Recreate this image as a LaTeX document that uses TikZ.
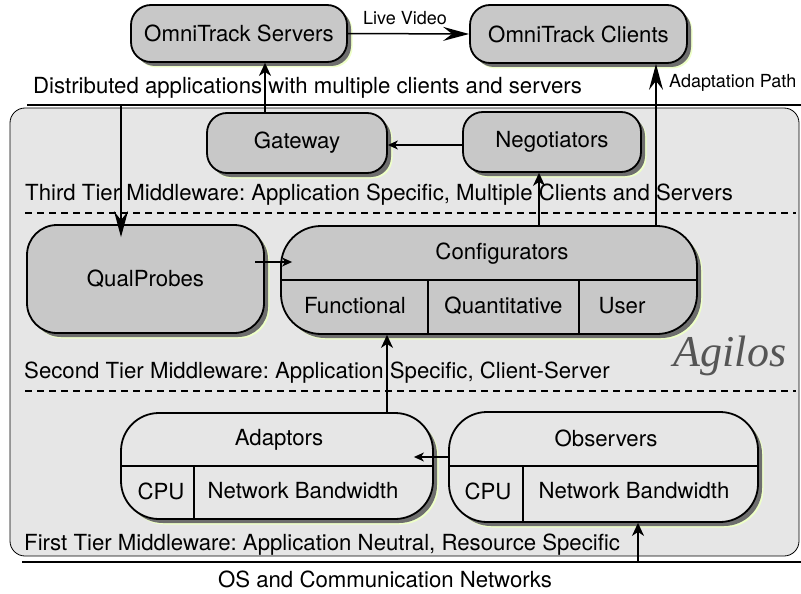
\documentclass[tikz,border=0pt]{standalone}
\usepackage{fontspec}
\setmainfont{TeX Gyre Heros}
\newfontfamily\agfont{Liberation Serif}
\usetikzlibrary{arrows.meta,shadows,calc}
\definecolor{bggray}{HTML}{E6E6E6}
\definecolor{boxgray}{HTML}{C8C8C8}
\definecolor{shgray}{HTML}{6E6E6E}
\definecolor{halo}{HTML}{EEFFC8}
\definecolor{aggray}{HTML}{555555}
\frenchspacing
\begin{document}
\begin{tikzpicture}[x=1pt,y=-1pt,
  every node/.style={inner sep=0pt,font=\fontsize{22.2}{26}\selectfont},
  tbox/.style={draw,line width=1.8pt,rounded corners=#1,fill=boxgray,
    drop shadow={shadow xshift=5.5pt,shadow yshift=-5.5pt,fill=halo,opacity=1},
    drop shadow={shadow xshift=4pt,shadow yshift=-4pt,fill=shgray,opacity=1}},
  lbox/.style={tbox=#1,fill=bggray},
  small/.style={font=\fontsize{18}{21}\selectfont},
  conn/.style={line width=1.5pt},
  bigtip/.style={conn,-{Stealth[length=26pt,width=14pt,inset=9pt]}},
  midtip/.style={conn,-{Stealth[length=13pt,width=12pt,inset=4pt]}},
  smalltip/.style={conn,-{Stealth[length=10pt,width=9pt,inset=3pt]}},
  divider/.style={line width=1.8pt},
  rule/.style={line width=1.5pt},
  tierline/.style={line width=1.5pt,dash pattern=on 7pt off 5pt}]
\useasboundingbox (0,0) rectangle (801,594);

% Agilos background box
\node[draw,line width=0.8pt,fill=bggray,rounded corners=15pt,
      minimum width=789pt,minimum height=448pt] (agbox) at (404.5,332) {};

% rules
\coordinate (topL) at (27,105);
\coordinate (topR) at (801,105);
\coordinate (botL) at (22,562);
\coordinate (botR) at (801,562);
\draw[rule] (topL) -- (topR);
\draw[rule] (botL) -- (botR);
\coordinate (d1L) at (25,213);
\coordinate (d1R) at (796,213);
\coordinate (d2L) at (25,391);
\coordinate (d2R) at (796,391);
\draw[tierline] (d1L) -- (d1R);
\draw[tierline] (d2L) -- (d2R);

% texts
\node[anchor=west] (dist) at (33,88) {Distributed applications with multiple clients and servers};
\node[anchor=west] (tier3) at (25,195) {Third Tier Middleware: Application Specific, Multiple Clients and Servers};
\node[anchor=west] (tier2) at (24,373) {Second Tier Middleware: Application Specific, Client-Server};
\node[anchor=west] (tier1) at (24,545) {First Tier Middleware: Application Neutral, Resource Specific};
\node (os) at (385,579) {OS and Communication Networks};
\node[font=\agfont\itshape\fontsize{44}{50}\selectfont,text=aggray] (agilos) at (730,356) {Agilos};
\node[small] (live) at (405,18) {Live Video};
\node[small,anchor=west] (adpath) at (669,83) {Adaptation Path};

% boxes
\node[tbox=20pt,minimum width=216pt,minimum height=57pt] (servers) at (239,33.5) {OmniTrack Servers};
\node[tbox=20pt,minimum width=217pt,minimum height=58pt] (clients) at (578.5,34) {OmniTrack Clients};
\node[tbox=20pt,minimum width=180pt,minimum height=60pt] (gateway) at (297,143) {Gateway};
\node[tbox=20pt,minimum width=178pt,minimum height=60pt] (negot) at (552,142) {Negotiators};
\node[tbox=30pt,minimum width=237pt,minimum height=108pt] (qual) at (145.5,279) {QualProbes};
\node[tbox=40pt,minimum width=416pt,minimum height=108pt] (config) at (489,280) {};
\node[lbox=38pt,minimum width=312pt,minimum height=106pt] (adapt) at (277,466) {};
\node[lbox=38pt,minimum width=309pt,minimum height=110pt] (obs) at (603.5,467) {};

% compartments: Configurators
\draw[divider] (config.west) -- (config.east);
\coordinate (cv1) at (428,0);
\coordinate (cv2) at (579,0);
\draw[divider] (cv1 |- config.center) -- (cv1 |- config.south);
\draw[divider] (cv2 |- config.center) -- (cv2 |- config.south);
\node (conft) at (502,254) {Configurators};
\node (func) at (355,306) {Functional};
\node (quant) at (503.5,306) {Quantitative};
\node (user) at (622,306) {User};

% compartments: Adaptors
\draw[divider] (adapt.west) -- (adapt.east);
\coordinate (av1) at (194,0);
\draw[divider] (av1 |- adapt.center) -- (av1 |- adapt.south);
\node (adt) at (279,440) {Adaptors};
\node (acpu) at (161,491) {CPU};
\node (anb) at (303,491) {Network Bandwidth};

% compartments: Observers
\coordinate (ov0) at (0,466);
\draw[divider] (obs.west |- ov0) -- (obs.east |- ov0);
\coordinate (ov1) at (523,0);
\draw[divider] (ov1 |- ov0) -- (ov1 |- obs.south);
\node (obt) at (606,438) {Observers};
\node (ocpu) at (488,491) {CPU};
\node (onb) at (634,491) {Network Bandwidth};

% connectors
\draw[bigtip] (servers.east) -- (clients.west);
\coordinate (gs) at (265,0);
\draw[midtip] (gs |- gateway.north) -- (gs |- servers.south);
\draw[smalltip] (negot.west |- 0,145) -- (gateway.east |- 0,145);
\coordinate (ql) at (121,0);
\draw[bigtip] (ql |- topL) -- ($(ql |- qual.north)+(0,13)$);
\coordinate (q1) at (255,262);
\draw[smalltip] (q1) -- ($(config.west |- q1)+(12,0)$);
\coordinate (cn) at (539,0);
\draw[midtip] (cn |- config.north) -- (cn |- negot.south);
\coordinate (ap) at (656,0);
\draw[bigtip] (ap |- config.north) -- (ap |- clients.south);
\coordinate (ac) at (387,0);
\draw[midtip] (ac |- adapt.north) -- (ac |- config.south);
\coordinate (oa) at (0,457);
\draw[smalltip] (obs.west |- oa) -- ($(adapt.east |- oa)+(-20,0)$);
\coordinate (bo) at (638,0);
\draw[midtip] (bo |- botL) -- (bo |- obs.south);
\end{tikzpicture}
\end{document}
